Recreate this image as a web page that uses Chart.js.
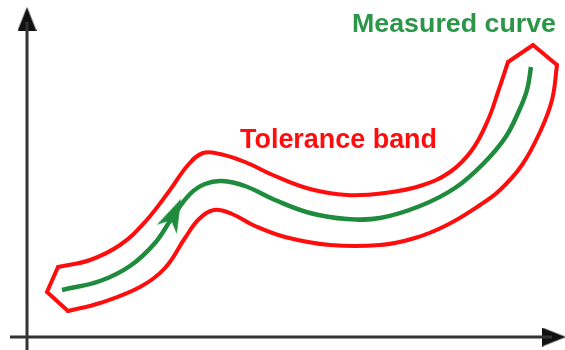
<!DOCTYPE html>
<html>
<head>
<meta charset="utf-8">
<script src="https://cdn.jsdelivr.net/npm/chart.js@4/dist/chart.umd.min.js"></script>
<style>
  html, body { margin: 0; padding: 0; background: #ffffff; }
  #wrap { width: 565px; height: 350px; }
</style>
</head>
<body>
<div id="wrap"><canvas id="c" width="565" height="350"></canvas></div>
<script>
// ---- Data (schematic coordinates; y grows downward) ----
const measuredCurve = [
  [62,290],[100,281],[130,266],[155,243],[172,218],[190,194],[205,184],[222,181],
  [245,186],[275,200],[310,213],[347,219],[380,218],[420,206],[455,188],[483,164],
  [505,138],[518,113],[527,90],[531,67]
];
const bandUpper = [
  [58,267],[90,260],[120,245],[145,222],[170,190],[188,165],[203,153],[220,154],
  [245,162],[275,176],[310,189],[347,195],[385,193],[420,186],[450,172],[472,150],
  [488,120],[498,92],[508,62]
];
const bandRightCap = [[508,62],[533,45],[557,65]];
const bandLower = [
  [557,65],[552,100],[540,132],[522,165],[500,190],[480,205],[447,225],[415,238],
  [380,245],[330,245],[285,237],[255,226],[232,214],[214,210],[199,219],[185,238],
  [165,268],[140,287],[100,303],[68,311]
];
const bandLeftCap = [[68,311],[47,292],[58,267]];
const yAxisLine = [[27,350],[27,22]];
const xAxisLine = [[10,337],[552,337]];
const arrowHeads = [[27,19],[554,337]];
const arrowRotations = [0, 90];
const curveArrow = [[174,214]];
const curveArrowRotation = [25];
const labelTexts = ['Measured curve', 'Tolerance band'];
const labelAnchors = [[352,32],[240,148]];
const labelWidths = [204, 197];

// ---- Styles ----
const RED = '#ff0d0d';
const GREEN_LINE = '#1f8b3d';
const GREEN_TEXT = '#2b9648';
const AXIS = '#333333';

function pts(a) { return a.map(p => ({ x: p[0], y: p[1] })); }

function makeArrowImg(w, h, color, notch) {
  const cv = document.createElement('canvas');
  cv.width = w; cv.height = h;
  const g = cv.getContext('2d');
  g.fillStyle = color;
  g.beginPath();
  g.moveTo(w / 2, 0);
  g.lineTo(w, h);
  g.lineTo(w / 2, h - notch);
  g.lineTo(0, h);
  g.closePath();
  g.fill();
  return cv;
}
const axisArrowImg = makeArrowImg(19, 24, '#111111', 0);
const greenArrowImg = makeArrowImg(22, 34, GREEN_LINE, 10);

function redSet(data, tension) {
  return {
    data: pts(data), showLine: true, fill: false, pointRadius: 0,
    borderColor: RED, borderWidth: 4, tension: tension,
    borderJoinStyle: 'miter', borderCapStyle: 'round', clip: false
  };
}

const labelPlugin = {
  id: 'labels',
  afterDatasetsDraw(chart) {
    const ctx = chart.ctx;
    const xs = chart.scales.x, ys = chart.scales.y;
    const fonts = ['bold 25px "Liberation Sans", Arial, sans-serif', 'bold 27px "Liberation Sans", Arial, sans-serif'];
    const colors = [GREEN_TEXT, RED];
    labelTexts.forEach((t, i) => {
      const px = xs.getPixelForValue(labelAnchors[i][0]);
      const py = ys.getPixelForValue(labelAnchors[i][1]);
      ctx.save();
      ctx.font = fonts[i];
      ctx.fillStyle = colors[i];
      ctx.textBaseline = 'alphabetic';
      const w = ctx.measureText(t).width;
      const sx = labelWidths[i] / w;
      ctx.translate(px, py);
      ctx.scale(sx, 1);
      ctx.fillText(t, 0, 0);
      ctx.restore();
    });
  }
};

new Chart(document.getElementById('c'), {
  type: 'scatter',
  data: {
    datasets: [
      { data: pts(yAxisLine), showLine: true, pointRadius: 0, borderColor: AXIS, borderWidth: 3, clip: false },
      { data: pts(xAxisLine), showLine: true, pointRadius: 0, borderColor: AXIS, borderWidth: 3, clip: false },
      redSet(bandUpper, 0.4),
      redSet(bandRightCap, 0),
      redSet(bandLower, 0.4),
      redSet(bandLeftCap, 0),
      { data: pts(measuredCurve), showLine: true, fill: false, pointRadius: 0,
        borderColor: GREEN_LINE, borderWidth: 4.5, tension: 0.4, borderCapStyle: 'butt', clip: false },
      { data: pts(curveArrow), showLine: false, pointStyle: greenArrowImg,
        rotation: curveArrowRotation, pointRadius: 10, clip: false },
      { data: pts(arrowHeads), showLine: false, pointStyle: axisArrowImg,
        rotation: arrowRotations, pointRadius: 10, clip: false }
    ]
  },
  options: {
    responsive: false,
    animation: false,
    events: [],
    layout: { padding: 0, autoPadding: false },
    plugins: { legend: { display: false }, tooltip: { enabled: false } },
    scales: {
      x: { type: 'linear', min: 0, max: 565, display: false },
      y: { type: 'linear', min: 0, max: 350, reverse: true, display: false }
    }
  },
  plugins: [labelPlugin]
});
</script>
</body>
</html>
